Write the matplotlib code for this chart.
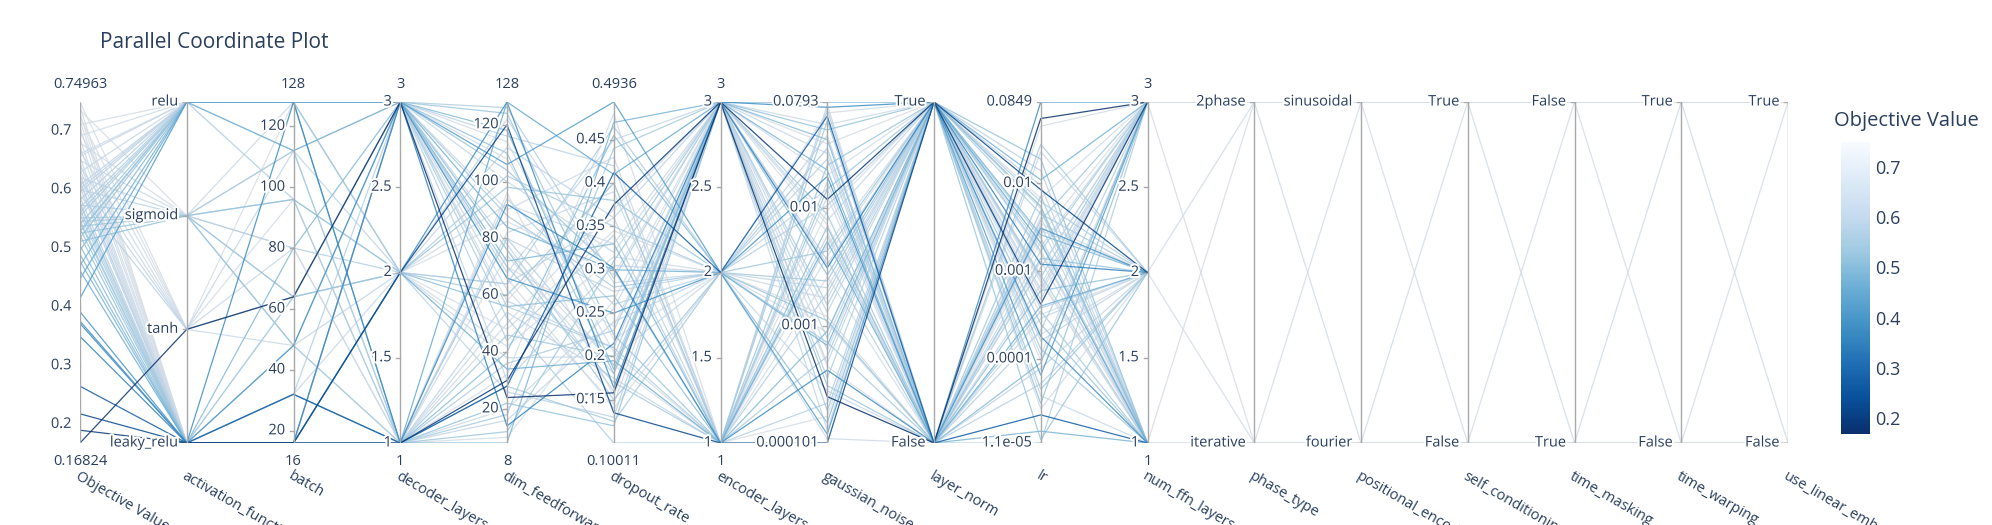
import numpy as np
import matplotlib
matplotlib.use("Agg")
import matplotlib.pyplot as plt
import matplotlib.patheffects as pe
from matplotlib.colors import Normalize, to_rgb
from matplotlib.cm import ScalarMappable

plt.rcParams['font.family'] = ['Open Sans', 'DejaVu Sans']
TEXT = '#2a3f5f'
AXCOL = '#a9a9a9'

# ---- trial data (one entry per trial) ----
objective = [0.16824, 0.190, 0.218, 0.265, 0.350, 0.372, 0.376, 0.392, 0.415, 0.448,
             0.462, 0.471, 0.478, 0.490, 0.497, 0.505, 0.512, 0.518, 0.522, 0.526,
             0.530, 0.534, 0.538, 0.541, 0.544, 0.548, 0.552, 0.555, 0.558, 0.562,
             0.566, 0.570, 0.574, 0.578, 0.583, 0.587, 0.591, 0.596, 0.600, 0.604,
             0.608, 0.612, 0.617, 0.621, 0.626, 0.630, 0.635, 0.640, 0.645, 0.650,
             0.655, 0.661, 0.667, 0.673, 0.680, 0.686, 0.692, 0.698, 0.705, 0.711,
             0.718, 0.724, 0.730, 0.736, 0.742, 0.74963, 0.528, 0.546, 0.602, 0.615,
             0.574, 0.657]

activation_function = [
    'tanh', 'leaky_relu', 'leaky_relu', 'leaky_relu', 'leaky_relu', 'leaky_relu', 'leaky_relu', 'leaky_relu', 'relu', 'relu',
    'leaky_relu', 'relu', 'leaky_relu', 'leaky_relu', 'relu', 'leaky_relu', 'sigmoid', 'relu', 'leaky_relu', 'sigmoid',
    'relu', 'leaky_relu', 'sigmoid', 'relu', 'leaky_relu', 'leaky_relu', 'sigmoid', 'relu', 'leaky_relu', 'relu',
    'leaky_relu', 'relu', 'sigmoid', 'leaky_relu', 'relu', 'leaky_relu', 'tanh', 'relu', 'sigmoid', 'leaky_relu',
    'relu', 'leaky_relu', 'tanh', 'sigmoid', 'leaky_relu', 'relu', 'leaky_relu', 'tanh', 'leaky_relu', 'sigmoid',
    'leaky_relu', 'relu', 'tanh', 'leaky_relu', 'sigmoid', 'leaky_relu', 'relu', 'tanh', 'leaky_relu', 'relu',
    'leaky_relu', 'tanh', 'leaky_relu', 'sigmoid', 'leaky_relu', 'tanh', 'relu', 'sigmoid', 'relu', 'leaky_relu',
    'leaky_relu', 'relu']

batch = [64, 16, 16, 32, 16, 128, 16, 48, 128, 128,
         16, 112, 16, 80, 128, 16, 96, 128, 32, 64,
         128, 16, 48, 128, 16, 64, 112, 128, 16, 96,
         16, 128, 80, 32, 128, 16, 64, 128, 96, 16,
         128, 48, 112, 64, 16, 128, 32, 80, 16, 128,
         16, 128, 48, 64, 112, 16, 128, 96, 32, 128,
         16, 64, 16, 80, 16, 128, 128, 48, 112, 16,
         32, 128]

decoder_layers = [3, 1, 2, 1, 3, 1, 2, 3, 3, 1,
                  2, 3, 1, 3, 3, 1, 2, 3, 1, 2,
                  3, 1, 3, 2, 1, 3, 1, 3, 2, 1,
                  3, 3, 2, 1, 3, 1, 2, 3, 1, 3,
                  3, 2, 1, 3, 1, 3, 2, 1, 3, 2,
                  1, 3, 1, 2, 3, 1, 3, 2, 1, 3,
                  1, 3, 2, 1, 3, 3, 3, 1, 2, 1,
                  3, 2]

dim_feedforward = [24, 30, 120, 28, 14, 92, 128, 66, 106, 128,
                   34, 84, 8, 72, 118, 40, 56, 110, 22, 98,
                   124, 12, 76, 60, 46, 88, 18, 70, 102, 36,
                   52, 126, 64, 80, 44, 94, 26, 116, 58, 30,
                   78, 112, 16, 68, 54, 100, 38, 82, 62, 122,
                   20, 90, 74, 42, 108, 50, 66, 86, 32, 114,
                   10, 76, 48, 96, 58, 70, 104, 28, 64, 80,
                   56, 92]

dropout_rate = [0.158, 0.375, 0.135, 0.412, 0.215, 0.302, 0.164, 0.25, 0.4936, 0.41,
                0.195, 0.300, 0.47, 0.33, 0.185, 0.455, 0.27, 0.18, 0.12, 0.38,
                0.225, 0.31, 0.15, 0.40, 0.20, 0.28, 0.44, 0.17, 0.35, 0.23,
                0.10011, 0.29, 0.465, 0.19, 0.34, 0.26, 0.13, 0.42, 0.21, 0.305,
                0.16, 0.36, 0.24, 0.45, 0.175, 0.32, 0.2, 0.39, 0.145, 0.285,
                0.255, 0.43, 0.18, 0.315, 0.205, 0.37, 0.14, 0.295, 0.48, 0.22,
                0.265, 0.19, 0.345, 0.155, 0.4, 0.235, 0.3, 0.125, 0.36, 0.275,
                0.21, 0.33]

encoder_layers = [3, 3, 1, 2, 3, 1, 3, 2, 2, 3,
                  1, 2, 3, 1, 3, 2, 1, 3, 3, 2,
                  1, 3, 2, 1, 3, 2, 3, 1, 2, 3,
                  1, 3, 2, 3, 1, 2, 3, 1, 3, 2,
                  3, 1, 2, 3, 1, 3, 2, 1, 3, 2,
                  3, 1, 3, 2, 1, 3, 2, 3, 1, 2,
                  3, 1, 2, 3, 1, 3, 1, 2, 3, 2,
                  1, 3]

gaussian_noise = [0.00025, 0.0118, 0.000101, 0.0600, 0.0031, 0.00042, 0.0715, 0.0185, 0.00012, 0.0793,
                  0.0052, 0.00068, 0.021, 0.0009, 0.038, 0.00015, 0.0069, 0.0027, 0.046, 0.0011,
                  0.0145, 0.00031, 0.0043, 0.055, 0.00019, 0.0024, 0.0088, 0.00055, 0.032, 0.0015,
                  0.068, 0.00036, 0.0105, 0.0036, 0.00022, 0.026, 0.00078, 0.0058, 0.0013, 0.041,
                  0.00048, 0.0165, 0.0021, 0.00013, 0.075, 0.0078, 0.00028, 0.0048, 0.029, 0.0017,
                  0.00062, 0.0125, 0.051, 0.00011, 0.0039, 0.0072, 0.00088, 0.019, 0.0026, 0.064,
                  0.00045, 0.0095, 0.0012, 0.035, 0.00017, 0.0062, 0.023, 0.00072, 0.0033, 0.0145,
                  0.0019, 0.00105]

layer_norm = ['False', 'True', 'True', 'False', 'True', 'False', 'True', 'False', 'True', 'True',
              'False', 'True', 'False', 'True', 'False', 'True', 'False', 'True', 'True', 'False',
              'True', 'False', 'True', 'False', 'True', 'True', 'False', 'True', 'False', 'True',
              'False', 'True', 'True', 'False', 'True', 'False', 'True', 'False', 'True', 'False',
              'True', 'False', 'True', 'True', 'False', 'True', 'False', 'True', 'False', 'True',
              'True', 'False', 'True', 'False', 'True', 'False', 'True', 'True', 'False', 'True',
              'False', 'True', 'False', 'True', 'True', 'False', 'True', 'False', 'True', 'False',
              'True', 'False']

lr = [0.055, 0.00042, 0.0085, 0.000023, 0.0012, 0.0849, 0.00018, 0.0031, 0.000065, 0.0021,
      0.0004, 0.011, 0.000015, 0.0026, 0.00009, 0.0055, 0.0006, 0.019, 0.000031, 0.0014,
      0.00025, 0.0038, 0.000045, 0.0072, 0.00085, 0.00013, 0.028, 0.0017, 0.00035, 0.0045,
      0.000011, 0.0009, 0.0062, 0.00021, 0.0024, 0.000052, 0.014, 0.0011, 0.00016, 0.0033,
      0.00048, 0.000078, 0.0095, 0.0019, 0.00029, 0.0052, 0.0007, 0.000038, 0.0029, 0.00011,
      0.0016, 0.023, 0.00056, 0.0041, 0.000027, 0.0013, 0.0068, 0.00032, 0.0022, 0.000095,
      0.0035, 0.00075, 0.045, 0.00019, 0.0008, 0.0026, 0.000012, 0.0049, 0.00062, 0.0017,
      0.00038, 0.0011]

num_ffn_layers = [3, 3, 2, 1, 2, 3, 1, 2, 3, 1,
                  2, 3, 1, 2, 3, 1, 2, 1, 3, 2,
                  1, 3, 2, 1, 3, 1, 2, 3, 1, 2,
                  3, 1, 2, 3, 1, 2, 1, 3, 2, 1,
                  3, 2, 1, 3, 2, 1, 3, 1, 2, 3,
                  1, 2, 3, 1, 2, 1, 3, 2, 1, 3,
                  2, 1, 3, 2, 1, 3, 2, 1, 3, 1,
                  2, 3]

# only a handful of trials carry the later options (trial index -> value)
phase_type = {56: '2phase', 57: '2phase', 58: 'iterative', 59: '2phase', 60: 'iterative',
              61: 'iterative', 62: '2phase', 64: '2phase', 65: 'iterative'}
positional_encoding = {56: 'sinusoidal', 57: 'fourier', 58: 'fourier', 59: 'sinusoidal', 60: 'sinusoidal',
                       61: 'fourier', 62: 'sinusoidal', 64: 'sinusoidal', 65: 'fourier'}
self_conditioning = {56: 'True', 57: 'True', 58: 'False', 59: 'True', 60: 'False',
                     61: 'False', 62: 'True', 64: 'True', 65: 'False'}
time_masking = {56: 'False', 57: 'True', 58: 'True', 59: 'False', 60: 'False',
                61: 'True', 62: 'False', 64: 'False', 65: 'True'}
time_warping = {56: 'True', 57: 'True', 58: 'False', 59: 'True', 60: 'False',
                61: 'False', 62: 'True', 64: 'True', 65: 'False'}
use_linear_embedding = {56: 'True', 57: 'False', 58: 'False', 59: 'True', 60: 'True',
                        61: 'False', 62: 'True', 64: 'True', 65: 'False'}

n_trials = len(objective)


def extra(d):
    return [d.get(i) for i in range(n_trials)]


# axis specs: (label, kind, values, ticks or categories bottom->top)
axes_spec = [
    ('Objective Value', 'num', objective, [0.2, 0.3, 0.4, 0.5, 0.6, 0.7]),
    ('activation_function', 'cat', activation_function, ['leaky_relu', 'tanh', 'sigmoid', 'relu']),
    ('batch', 'num', batch, [20, 40, 60, 80, 100, 120]),
    ('decoder_layers', 'num', decoder_layers, [1, 1.5, 2, 2.5, 3]),
    ('dim_feedforward', 'num', dim_feedforward, [20, 40, 60, 80, 100, 120]),
    ('dropout_rate', 'num', dropout_rate, [0.15, 0.2, 0.25, 0.3, 0.35, 0.4, 0.45]),
    ('encoder_layers', 'num', encoder_layers, [1, 1.5, 2, 2.5, 3]),
    ('gaussian_noise', 'log', gaussian_noise, [0.001, 0.01]),
    ('layer_norm', 'cat', layer_norm, ['False', 'True']),
    ('lr', 'log', lr, [0.0001, 0.001, 0.01]),
    ('num_ffn_layers', 'num', num_ffn_layers, [1, 1.5, 2, 2.5, 3]),
    ('phase_type', 'cat', extra(phase_type), ['iterative', '2phase']),
    ('positional_encoding', 'cat', extra(positional_encoding), ['fourier', 'sinusoidal']),
    ('self_conditioning', 'cat', extra(self_conditioning), ['False', 'True']),
    ('time_masking', 'cat', extra(time_masking), ['True', 'False']),
    ('time_warping', 'cat', extra(time_warping), ['False', 'True']),
    ('use_linear_embedding', 'cat', extra(use_linear_embedding), ['False', 'True']),
]


def scaler(kind, vals, cats):
    if kind == 'cat':
        return lambda v: cats.index(v) / (len(cats) - 1)
    v = [x for x in vals if x is not None]
    if kind == 'log':
        lo, hi = np.log10(min(v)), np.log10(max(v))
        return lambda x: (np.log10(x) - lo) / (hi - lo)
    lo, hi = min(v), max(v)
    return lambda x: (x - lo) / (hi - lo)


W, H = 1992, 525
fig = plt.figure(figsize=(W / 100, H / 100), dpi=100)
x0, x1, ytop, ybot = 80, 1788, 102, 443
ax = fig.add_axes([x0 / W, 1 - ybot / H, (x1 - x0) / W, (ybot - ytop) / H])
ax.set_xlim(0, len(axes_spec) - 1)
ax.set_ylim(0, 1)
ax.axis('off')

scalers = [scaler(k, v, t) for (_, k, v, t) in axes_spec]

norm = Normalize(min(objective), max(objective))
cmap = plt.get_cmap('Blues_r')
grey = np.array(to_rgb('#a2abb8'))


def line_colour(v):
    # plotly renders the pale end of the scale as a soft grey-blue
    f = norm(v)
    c = np.array(cmap(f)[:3])
    w = 0.38 * f ** 3
    return tuple(c * (1 - w) + grey * w)


# lines, light first so dark trials sit on top
order = np.argsort(objective)[::-1]
for t in order:
    xs, ys = [], []
    for j, (_, kind, vals, ticks) in enumerate(axes_spec):
        v = vals[t]
        if v is None:
            break
        xs.append(j)
        ys.append(scalers[j](v))
    ax.plot(xs, ys, color=line_colour(objective[t]), lw=0.9, alpha=0.85,
            solid_joinstyle='miter', zorder=2)

halo = [pe.withStroke(linewidth=3, foreground='white')]
tick_kw = dict(fontsize=10.5, color=TEXT, ha='right', va='center', zorder=6, path_effects=halo)
tick_len = 4 / ((x1 - x0) / (len(axes_spec) - 1))

for j, (label, kind, vals, ticks) in enumerate(axes_spec):
    ax.plot([j, j], [0, 1], color=AXCOL, lw=1, zorder=4, solid_capstyle='butt')
    v = [x for x in vals if x is not None]
    if kind == 'cat':
        tick_pos = [(c, scalers[j](c)) for c in ticks]
    elif kind == 'log':
        tv = [min(v)] + ticks + [max(v)]
        tick_pos = [('{:.3g}'.format(x), scalers[j](x)) for x in tv]
    else:
        tick_pos = [('{:g}'.format(x), scalers[j](x)) for x in ticks]
        ax.annotate('{:.5g}'.format(max(v)), (j, 1), xytext=(0, 12.5), textcoords='offset points',
                    ha='center', va='center', fontsize=10.5, color=TEXT, annotation_clip=False)
        ax.annotate('{:.5g}'.format(min(v)), (j, 0), xytext=(0, -13), textcoords='offset points',
                    ha='center', va='center', fontsize=10.5, color=TEXT, annotation_clip=False)
    for txt, y in tick_pos:
        ax.plot([j - tick_len, j], [y, y], color=AXCOL, lw=1, zorder=4)
        ax.annotate(txt, (j, y), xytext=(-6, 0), textcoords='offset points',
                    annotation_clip=False, **tick_kw)
    ax.annotate(label, (j, 0), xytext=(0, -18.5), textcoords='offset points',
                ha='left', va='top', rotation=-30, rotation_mode='anchor',
                fontsize=10.5, color=TEXT, annotation_clip=False)

fig.text(100 / W, 1 - 42 / H, 'Parallel Coordinate Plot', fontsize=15, color=TEXT,
         ha='left', va='center')

# colour bar
cb_top, cb_bot = 142, 434
cax = fig.add_axes([1841 / W, 1 - cb_bot / H, 29 / W, (cb_bot - cb_top) / H])
cb = fig.colorbar(ScalarMappable(norm=norm, cmap=cmap), cax=cax)
cb.set_ticks([0.2, 0.3, 0.4, 0.5, 0.6, 0.7])
cb.outline.set_visible(False)
cax.tick_params(length=0, labelsize=13, labelcolor=TEXT, pad=4)
fig.text(1834 / W, 1 - 121 / H, 'Objective Value', fontsize=14.5, color=TEXT,
         ha='left', va='center')

fig.savefig('out.png', dpi=100)
